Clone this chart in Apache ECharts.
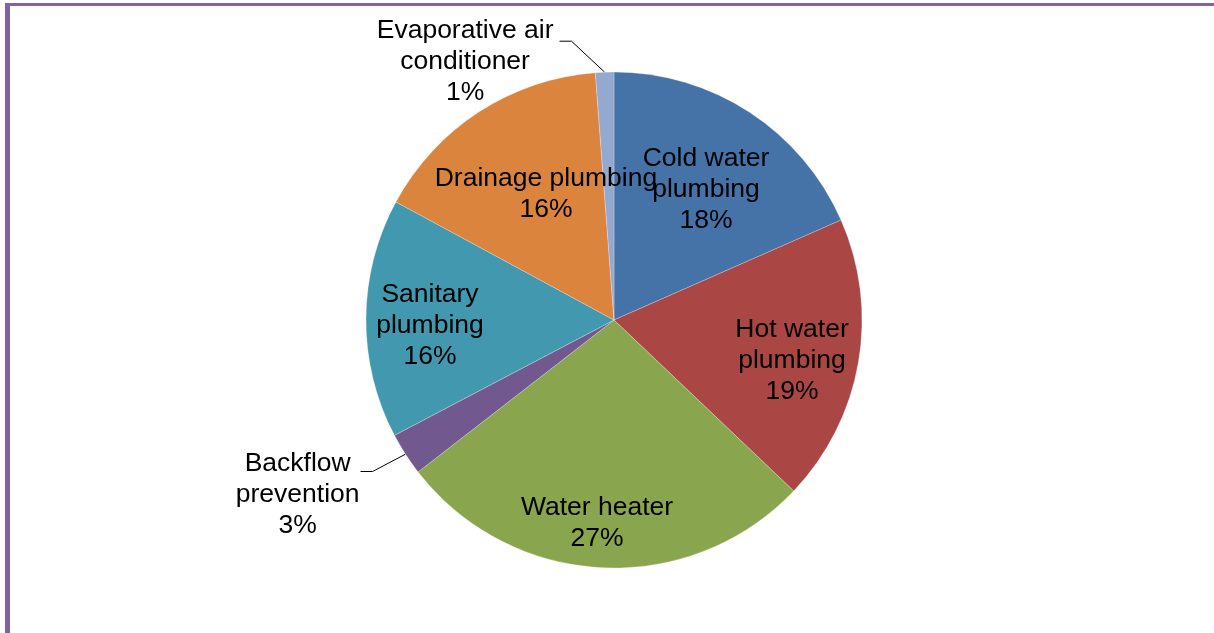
<!DOCTYPE html>
<html><head><meta charset="utf-8">
<script src="https://cdn.jsdelivr.net/npm/echarts@6/dist/echarts.min.js"></script>
<style>
html,body{margin:0;padding:0;background:#fff;overflow:hidden;width:1214px;height:633px;}
#frame{position:absolute;left:5px;top:3px;width:1300px;height:700px;border-left:5px solid #8064A2;border-top:3px solid #8064A2;}
#chart{position:absolute;left:0;top:0;width:1214px;height:633px;}
</style></head><body>
<div id="frame"></div>
<div id="chart"></div>
<script>
const categories = ['Cold water plumbing','Hot water plumbing','Water heater','Backflow prevention','Sanitary plumbing','Drainage plumbing','Evaporative air conditioner'];
const labelLines = [['Cold water','plumbing'],['Hot water','plumbing'],['Water heater'],['Backflow','prevention'],['Sanitary','plumbing'],['Drainage plumbing'],['Evaporative air','conditioner']];
const values = [18.4, 18.7, 27.4, 2.8, 15.6, 15.9, 1.2];
const colors = ['#4572A7','#AA4643','#89A54E','#71588F','#4198AF','#DB843D','#93A9CF'];
const outside = [false,false,false,true,false,false,true];
const labelShift = [[22.6,-23.6],[52.9,19.2],[-10.6,76.2],[0,23],[-57,6.8],[1,-19.4],[0,20]];
const lineLen = [0,0,0,32,0,0,31];
const lineLen2 = [0,0,0,18,0,0,44];
const lineGap = [0,0,0,1,0,0,6];
const FONT = '"Liberation Sans", Arial, sans-serif';

const chart = echarts.init(document.getElementById('chart'), null, {renderer:'canvas'});
chart.setOption({
  animation: false,
  backgroundColor: 'transparent',
  series: [{
    type: 'pie',
    center: [614, 320],
    radius: 248,
    startAngle: 90,
    clockwise: true,
    percentPrecision: 0,
    avoidLabelOverlap: false,
    itemStyle: {borderColor: 'rgba(255,255,255,0.5)', borderWidth: 0.5},
    emphasis: {disabled: true},
    label: {
      show: true,
      color: '#000',
      fontSize: 26.5,
      lineHeight: 31,
      fontFamily: FONT,
      formatter: p => labelLines[p.dataIndex].concat([p.percent + '%']).map(s => '{c|' + s + '}').join('\n'),
      rich: {c: {color:'#000', fontSize:26.5, lineHeight:31, fontFamily: FONT, align:'center'}}
    },
    labelLayout: function (p) {
      const s = labelShift[p.dataIndex];
      const cx = p.labelRect.x + p.labelRect.width / 2;
      const cy = p.labelRect.y + p.labelRect.height / 2;
      if (outside[p.dataIndex] && p.labelLinePoints) {
        const pts = p.labelLinePoints;
        const a = pts[0], c = pts[2];
        const dir = pts[1][0] > c[0] ? 1 : -1;
        return {y: cy + s[1], labelLinePoints: [a, [c[0] + dir * 12, c[1]], c]};
      }
      return {x: cx + s[0], y: cy + s[1]};
    },
    data: categories.map((name, i) => ({
      name: name,
      value: values[i],
      itemStyle: {color: colors[i]},
      label: outside[i] ? {position: 'outside', distanceToLabelLine: lineGap[i]} : {position: 'inside'},
      labelLine: outside[i]
        ? {show: true, length: lineLen[i], length2: lineLen2[i], smooth: false, lineStyle: {color: '#000', width: 1}}
        : {show: false}
    }))
  }]
});
</script>
</body></html>
